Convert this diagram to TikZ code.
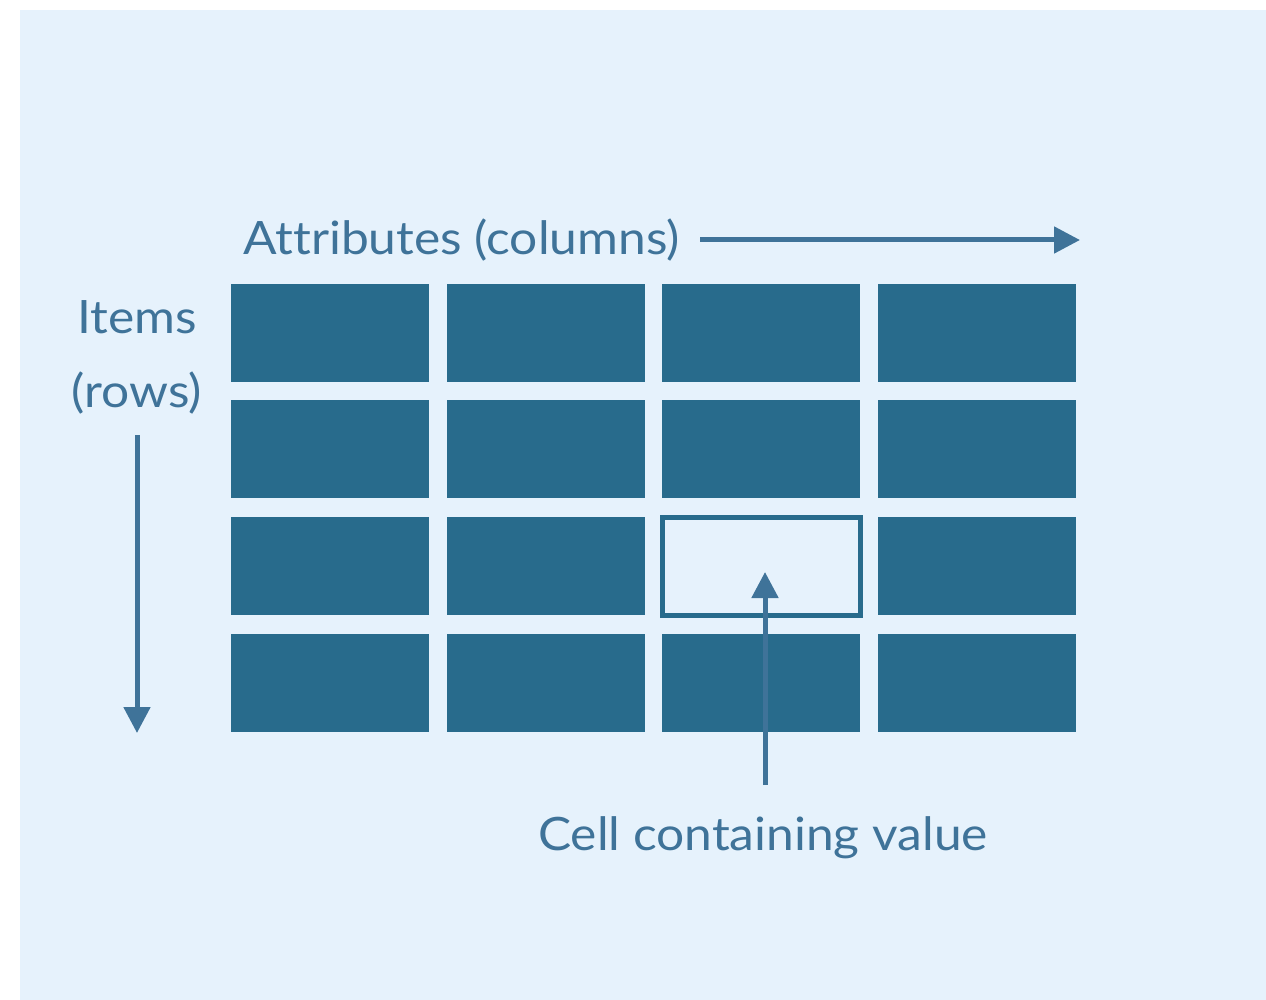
\documentclass[tikz,border=0pt]{standalone}
\usepackage{fontspec}
\setmainfont{Lato}[FakeStretch=1.08, Ligatures=NoCommon]
\usetikzlibrary{arrows.meta}
\definecolor{bgblue}{HTML}{E6F2FC}
\definecolor{cellblue}{HTML}{286B8C}
\definecolor{inkblue}{HTML}{3F7399}
\tikzset{
  cellbox/.style={fill=cellblue, draw=none, minimum width=198pt, minimum height=98pt, inner sep=0pt, outer sep=0pt},
  emptybox/.style={fill=none, draw=cellblue, line width=5pt, minimum width=198pt, minimum height=98pt, inner sep=0pt, outer sep=0pt},
  lbl/.style={text=inkblue, font=\fontsize{46}{52}\selectfont, inner sep=0pt},
  arr/.style={draw=inkblue, line width=5pt, -{Triangle[length=26pt,width=26pt]}}
}
\begin{document}
\begin{tikzpicture}[x=1pt,y=-1pt]
\useasboundingbox (0,0) rectangle (1266,1000);
\fill[bgblue] (20,10) rectangle (1266,1000);
% cells
\foreach \r/\y in {1/333,2/449,3/566,4/683}{
  \foreach \c/\x in {1/330,2/546,3/761,4/977}{
    \ifnum\r\c=33
      \node[emptybox] (c\r\c) at (\x,\y) {};
    \else
      \node[cellbox] (c\r\c) at (\x,\y) {};
    \fi
  }
}
% labels
\node[lbl, anchor=base west] (attr) at (243,255) {Attributes (columns)};
\node[lbl, anchor=base] (items) at (137,333) {Items};
\node[lbl, anchor=base] (rows) at (137,407) {(rows)};
\node[lbl, anchor=base west] (cellv) at (538,850) {Cell containing value};
% arrows
\coordinate (hs) at (700,240);
\coordinate (he) at (1080,240);
\draw[arr] (hs) -- (he);
\coordinate (vs) at (137,435);
\coordinate (ve) at (137,733);
\draw[arr] (vs) -- (ve);
\coordinate (cs) at (765,785);
\coordinate (ce) at (765,572);
\draw[arr] (cs) -- (ce);
\end{tikzpicture}
\end{document}
